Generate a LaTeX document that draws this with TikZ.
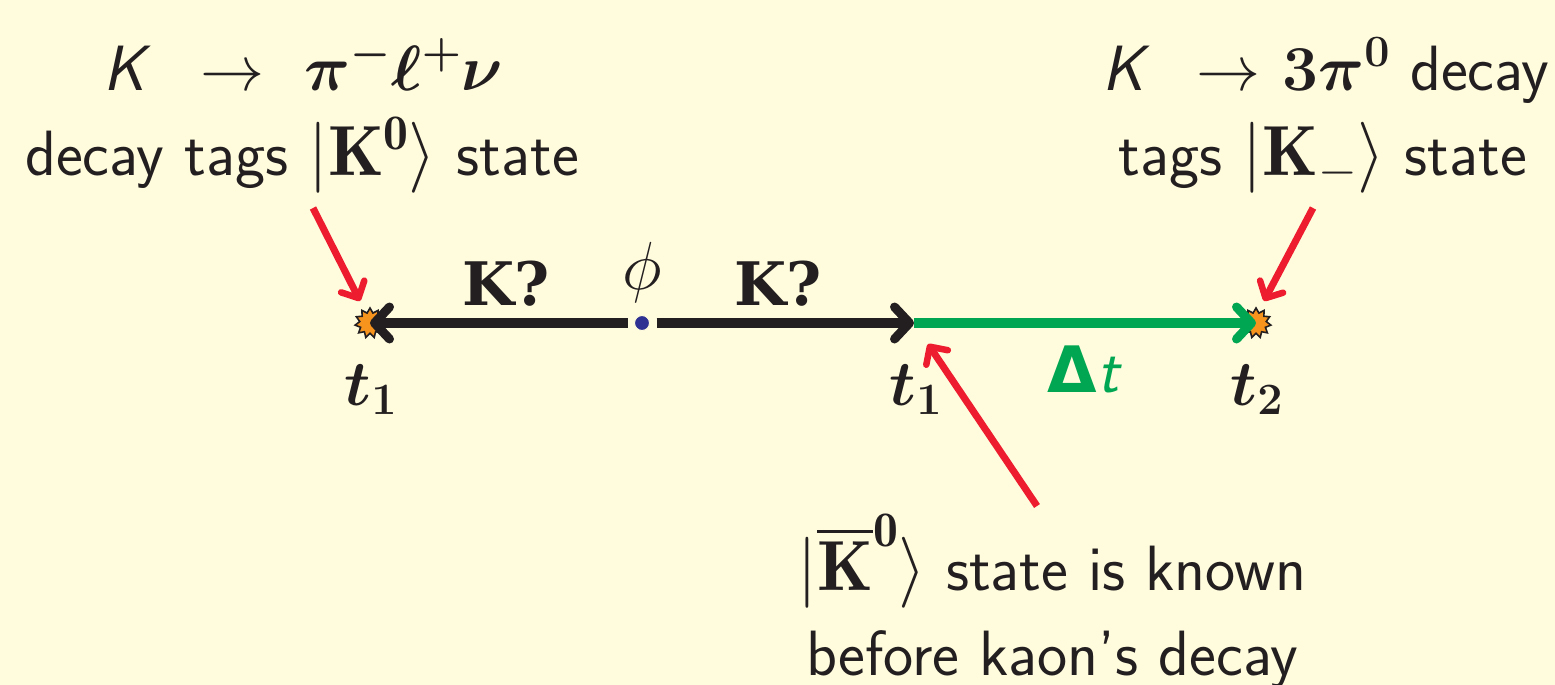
\RequirePackage{fix-cm}
\documentclass[tikz,border=0pt]{standalone}
\usepackage{amsmath,amssymb}
\usepackage{fontspec}
\newfontfamily\kfont{DejaVu Serif}
\newfontfamily\dfont{DejaVu Sans}
\usetikzlibrary{arrows.meta,shapes.geometric}
\definecolor{bgyellow}{RGB}{255,252,222}
\definecolor{inkdark}{RGB}{35,31,32}
\definecolor{arrowred}{RGB}{237,28,46}
\definecolor{dtgreen}{RGB}{0,166,81}
\definecolor{blastorange}{RGB}{247,148,29}
\definecolor{dotblue}{RGB}{46,49,146}
\newcommand{\sfk}{\textsf{\itshape K}}
\newcommand{\kstate}[1]{{\fontsize{71}{71}\selectfont$|#1\rangle$}}
\tikzset{
  lbl/.style={text=inkdark,font=\fontsize{64}{64}\selectfont\sffamily,inner sep=0pt,anchor=base},
  kname/.style={lbl,font=\fontsize{60}{60}\selectfont\kfont\bfseries},
  timeline/.style={line width=10pt,inkdark},
  tagline/.style={line width=7pt,arrowred},
  bigtip/.style={-{Straight Barb[length=15pt,width=32pt,line width=9pt,round]}},
  redtip/.style={-{Straight Barb[length=13pt,width=26pt,line width=6.5pt,round]}},
  blast/.style={star,star points=11,star point ratio=1.45,draw=inkdark,fill=blastorange,line width=1.6pt,minimum size=30pt,inner sep=0pt},
}
\begin{document}
\begin{tikzpicture}[x=1pt,y=-1pt]
\useasboundingbox[fill=bgyellow] (0,0) rectangle (1555,685);
% Decays
\node[blast] (bl) at (370,323) {};
\node[blast] (br) at (1256,323) {};
\node[circle,fill=dotblue,draw=bgyellow,line width=1pt,minimum size=15pt,inner sep=0pt,outer sep=7pt] (phi) at (642,323) {};
\coordinate (mid) at (914,323);
% Timeline
\draw[timeline,bigtip] (phi) -- (bl.center);
\draw[timeline,bigtip] (phi) -- (mid);
\draw[timeline,dtgreen,bigtip] (mid) -- (br.center);
% Labels
\node[kname] (kl) at (506,305) {K?};
\node[kname] (kr) at (778,305) {K?};
\node[lbl,font=\fontsize{68}{68}\selectfont] (ph) at (642,289) {$\phi$};
\node[lbl] (t1a) at (371,405) {$\boldsymbol{t_1}$};
\node[lbl] (t1b) at (916,405) {$\boldsymbol{t_1}$};
\node[lbl] (t2) at (1257,405) {$\boldsymbol{t_2}$};
\node[lbl,text=dtgreen] (dt) at (1085,392) {{\dfont\bfseries Δ}\textit{t}};
% Top left
\node[lbl] (tl1) at (303,90) {\sfk\hspace{50pt}$\rightarrow$\hspace{40pt}$\boldsymbol{\pi^-\ell^+\nu}$};
\node[lbl] (tl2) at (302,175) {decay tags \kstate{\mathbf{K^0}} state};
% Top right
\node[lbl] (tr1) at (1326,90) {\sfk\hspace{46pt}$\rightarrow$\hspace{22pt}$\boldsymbol{3\pi^0}$ decay};
\node[lbl] (tr2) at (1323,175) {tags \kstate{\mathbf{K_-}} state};
% Bottom
\node[lbl] (bt1) at (1052,590) {\kstate{\overline{\mathbf{K}}^{\mathbf{0}}} state is known};
\node[lbl] (bt2) at (1052,675) {before kaon's decay};
% Red arrows
\coordinate (al) at (313,208);
\coordinate (ar) at (1313,208);
\coordinate (am) at (1037,506);
\coordinate (ale) at (360,301);
\coordinate (are) at (1264,301);
\coordinate (ame) at (928,344);
\draw[tagline,redtip] (al) -- (ale);
\draw[tagline,redtip] (ar) -- (are);
\draw[tagline,redtip] (am) -- (ame);
\end{tikzpicture}
\end{document}
